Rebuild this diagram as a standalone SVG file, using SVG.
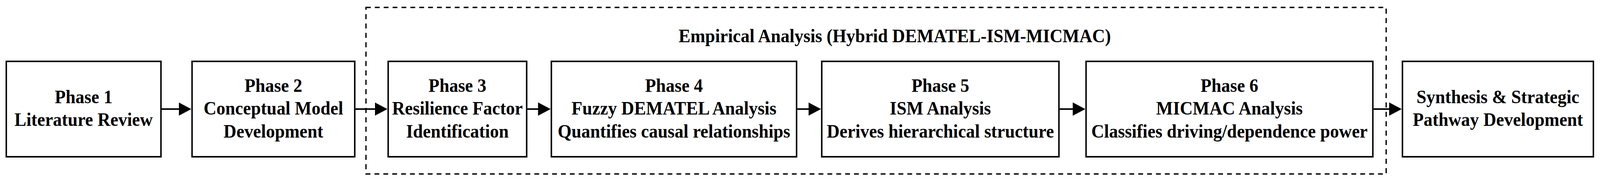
<svg xmlns="http://www.w3.org/2000/svg" width="4324" height="463" viewBox="0 0 4324 463">
<style>
  .box { fill: #ffffff; stroke: #000000; stroke-width: 4; }
  .grp { fill: none; stroke: #000000; stroke-width: 3.5; stroke-dasharray: 13 11; }
  .conn { fill: none; stroke: #000000; stroke-width: 4; marker-end: url(#arrow); }
  .t { font-family: "Liberation Serif", "Times New Roman", serif; font-weight: bold; font-size: 48px; fill: #000000; text-anchor: middle; }
</style>
<defs>
  <marker id="arrow" viewBox="0 0 34 34" markerWidth="34" markerHeight="34" markerUnits="userSpaceOnUse" refX="24" refY="17" orient="auto">
    <path d="M0,0 L34,17 L0,34 Z" fill="#000000"/>
  </marker>
</defs>
<rect x="0" y="0" width="4324" height="463" fill="#ffffff"/>

<g id="diagram" transform="scale(0.9473,1)">
<g id="empirical-group">
  <rect class="grp" x="989" y="19" width="2757" height="426"/>
  <text class="t" x="2418" y="108">Empirical Analysis (Hybrid DEMATEL-ISM-MICMAC)</text>
</g>

<g id="connectors">
  <line class="conn" x1="437" y1="279" x2="507" y2="279"/>
  <line class="conn" x1="960.7" y1="279" x2="1037" y2="279"/>
  <line class="conn" x1="1425.3" y1="279" x2="1478" y2="279"/>
  <line class="conn" x1="2154.7" y1="279" x2="2208.7" y2="279"/>
  <line class="conn" x1="2863.7" y1="279" x2="2923" y2="279"/>
  <line class="conn" x1="3712" y1="279" x2="3778" y2="279"/>
</g>

<g id="phase1">
  <rect class="box" x="17" y="157" width="418" height="244"/>
  <text class="t" x="226" y="264">Phase 1</text>
  <text class="t" x="226" y="322">Literature Review</text>
</g>

<g id="phase2">
  <rect class="box" x="519" y="157" width="439.7" height="244"/>
  <text class="t" x="738.85" y="235">Phase 2</text>
  <text class="t" x="738.85" y="293.5">Conceptual Model</text>
  <text class="t" x="738.85" y="352">Development</text>
</g>

<g id="phase3">
  <rect class="box" x="1049" y="157" width="374.3" height="244"/>
  <text class="t" x="1236.15" y="235">Phase 3</text>
  <text class="t" x="1236.15" y="293.5">Resilience Factor</text>
  <text class="t" x="1236.15" y="352">Identification</text>
</g>

<g id="phase4">
  <rect class="box" x="1490" y="157" width="662.7" height="244"/>
  <text class="t" x="1821.35" y="235">Phase 4</text>
  <text class="t" x="1821.35" y="293.5">Fuzzy DEMATEL Analysis</text>
  <text class="t" x="1821.35" y="352">Quantifies causal relationships</text>
</g>

<g id="phase5">
  <rect class="box" x="2220.7" y="157" width="641" height="244"/>
  <text class="t" x="2541.2" y="235">Phase 5</text>
  <text class="t" x="2541.2" y="293.5">ISM Analysis</text>
  <text class="t" x="2541.2" y="352">Derives hierarchical structure</text>
</g>

<g id="phase6">
  <rect class="box" x="2935" y="157" width="775" height="244"/>
  <text class="t" x="3322.5" y="235">Phase 6</text>
  <text class="t" x="3322.5" y="293.5">MICMAC Analysis</text>
  <text class="t" x="3322.5" y="352">Classifies driving/dependence power</text>
</g>

<g id="synthesis">
  <rect class="box" x="3790" y="157" width="516" height="244"/>
  <text class="t" x="4048" y="264">Synthesis &amp; Strategic</text>
  <text class="t" x="4048" y="322">Pathway Development</text>
</g>
</g>
</svg>
